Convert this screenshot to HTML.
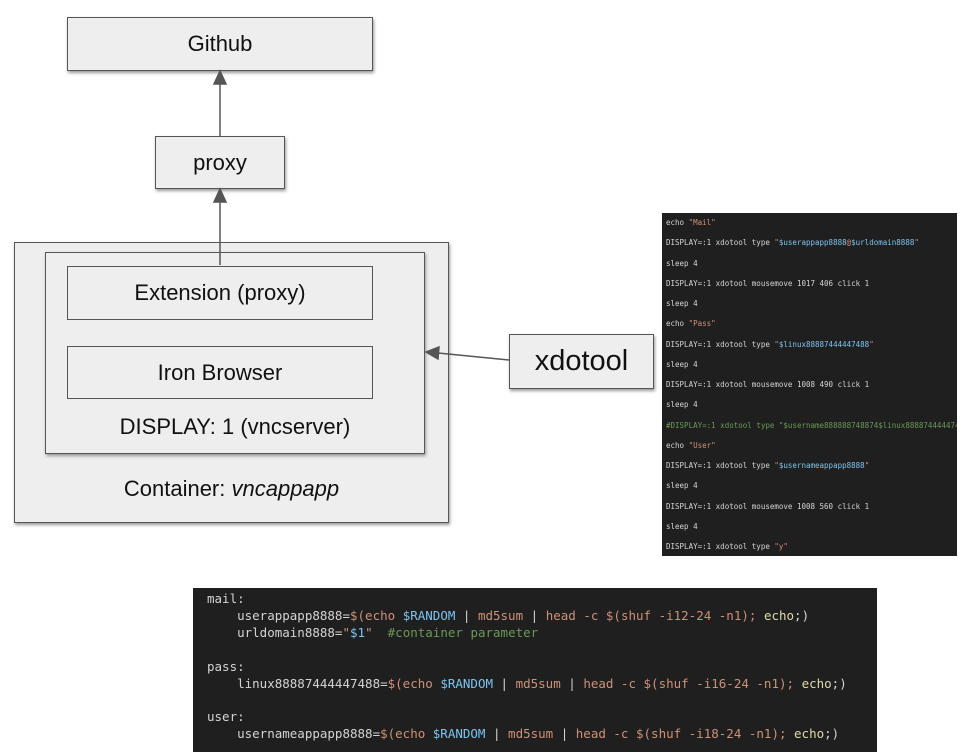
<!DOCTYPE html>
<html><head><style>
body{margin:0;width:967px;height:752px;background:#fff;position:relative;overflow:hidden;font-family:"Liberation Sans",sans-serif}
.b{position:absolute;box-sizing:border-box;border:1.5px solid #555;background:#eee;display:flex;align-items:center;justify-content:center;color:#111;font-size:22px}
.t{position:absolute;font-size:22px;color:#111;text-align:center}
.code{position:absolute;background:#1f1f1f;font-family:"DejaVu Sans Mono","Liberation Mono",monospace;color:#d4d4d4;white-space:pre;overflow:hidden}
.s{color:#ce9178}.v{color:#7cc4f0}.c{color:#6a9955}.y{color:#dcdcaa}
</style></head><body>
<div class="b" style="left:14px;top:242px;width:435px;height:281px;box-shadow:1px 2px 3px #999"></div>
<div class="b" style="left:45px;top:252px;width:380px;height:202px;box-shadow:1px 2px 3px #999"></div>
<div class="b" style="left:67px;top:17px;width:306px;height:54px;box-shadow:1px 2px 3px #999">Github</div>
<div class="b" style="left:155px;top:136px;width:130px;height:53px;box-shadow:1px 2px 3px #999">proxy</div>
<div class="b" style="left:67px;top:266px;width:306px;height:54px">Extension (proxy)</div>
<div class="b" style="left:67px;top:346px;width:306px;height:53px">Iron Browser</div>
<div class="t" style="left:45px;top:414px;width:380px">DISPLAY: 1 (vncserver)</div>
<div class="t" style="left:14px;top:476px;width:435px">Container: <i>vncappapp</i></div>
<div class="b" style="left:509px;top:334px;width:145px;height:55px;font-size:29px;box-shadow:1px 2px 3px #999">xdotool</div>
<svg style="position:absolute;left:0;top:0" width="967" height="752">
<g stroke="#555" stroke-width="1.5" fill="#555">
<line x1="220" y1="265" x2="220" y2="200"/><polygon points="214,202 226,202 220,189"/>
<line x1="220" y1="136" x2="220" y2="82"/><polygon points="214,84 226,84 220,71"/>
<line x1="509" y1="360" x2="438" y2="353"/><polygon points="439,347 438,359 426,352"/>
</g></svg>
<div class="code" style="left:662px;top:213px;width:295px;height:343px;font-size:7.5px;line-height:20.25px;padding:0 4px;box-sizing:border-box">echo <span class="s">"Mail"</span>
DISPLAY=:1 xdotool type <span class="s">"</span><span class="v">$userappapp8888</span><span class="s">@</span><span class="v">$urldomain8888</span><span class="s">"</span>
sleep 4
DISPLAY=:1 xdotool mousemove 1017 406 click 1
sleep 4
echo <span class="s">"Pass"</span>
DISPLAY=:1 xdotool type <span class="s">"</span><span class="v">$linux88887444447488</span><span class="s">"</span>
sleep 4
DISPLAY=:1 xdotool mousemove 1008 490 click 1
sleep 4
<span class="c">#DISPLAY=:1 xdotool type "$username888888748874$linux88887444447488"</span>
echo <span class="s">"User"</span>
DISPLAY=:1 xdotool type <span class="s">"</span><span class="v">$usernameappapp8888</span><span class="s">"</span>
sleep 4
DISPLAY=:1 xdotool mousemove 1008 560 click 1
sleep 4
DISPLAY=:1 xdotool type <span class="s">"y"</span></div>
<div class="code" style="left:193px;top:588px;width:684px;height:164px;font-size:12.5px;line-height:16.9px;padding:3px 14px;box-sizing:border-box">mail:
    userappapp8888=<span class="s">$(echo</span> <span class="v">$RANDOM</span> | <span class="s">md5sum</span> | <span class="s">head -c $(shuf -i12-24 -n1);</span> <span class="y">echo</span>;)
    urldomain8888=<span class="s">"</span><span class="v">$1</span><span class="s">"</span>  <span class="c">#container parameter</span>

pass:
    linux88887444447488=<span class="s">$(echo</span> <span class="v">$RANDOM</span> | <span class="s">md5sum</span> | <span class="s">head -c $(shuf -i16-24 -n1);</span> <span class="y">echo</span>;)

user:
    usernameappapp8888=<span class="s">$(echo</span> <span class="v">$RANDOM</span> | <span class="s">md5sum</span> | <span class="s">head -c $(shuf -i18-24 -n1);</span> <span class="y">echo</span>;)</div>
</body></html>
